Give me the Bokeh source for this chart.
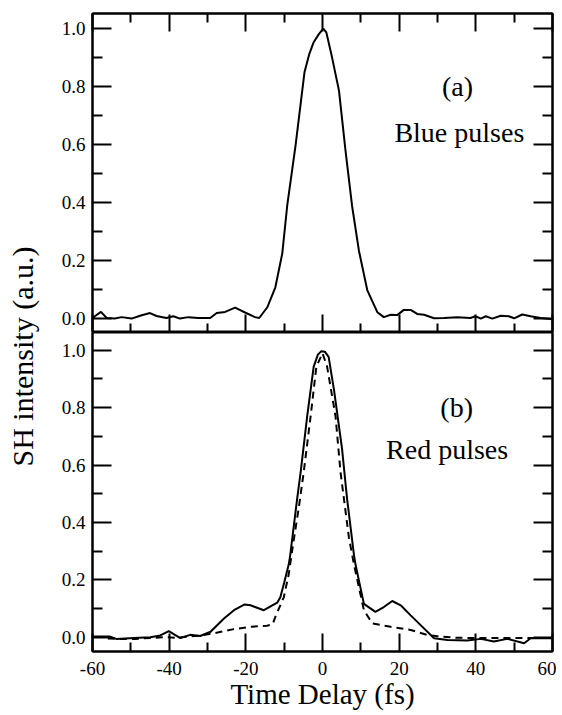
from bokeh.plotting import figure
from bokeh.models import Range1d, LinearAxis, FixedTicker, Label
from bokeh.layouts import row, column
from bokeh.embed import file_html
from bokeh.resources import INLINE

# ---------------- data ----------------
x_ticks = [-60, -40, -20, 0, 20, 40, 60]
x_tick_labels = ["-60", "-40", "-20", "0", "20", "40", "60"]
x_minor = [-50, -30, -10, 10, 30, 50]
y_ticks = [0.0, 0.2, 0.4, 0.6, 0.8, 1.0]
y_tick_labels = ["0.0", "0.2", "0.4", "0.6", "0.8", "1.0"]
y_minor = [0.1, 0.3, 0.5, 0.7, 0.9]

blue_t = [-60, -59.4, -57.8, -56.3, -54.2, -52.4, -49.8, -47.6, -45, -43.3, -40.7, -38.9,
          -37.2, -35, -32.4, -29.3, -27.6, -25.4, -22.8, -20.2, -17.6, -16.5, -14.4, -12.3,
          -10.5, -9.2, -7.0, -4.7, -3.5, -2.3, -1.0, 0.2, 1.0, 2.5, 4.3, 6.0, 7.7, 9.5, 11.7,
          14.3, 16, 17.8, 19.5, 21.2, 23, 24.7, 26.5, 29.1, 31.7, 35.2, 38.6, 39.9, 41.3,
          42.6, 44.3, 46.5, 48.6, 50, 52.1, 54.3, 56.9, 60]
blue_sh = [0.0, 0.008, 0.023, 0.002, 0.0, 0.005, 0.0, 0.01, 0.019, 0.009, 0.002, 0.008,
           0.0, 0.005, 0.002, 0.002, 0.019, 0.023, 0.038, 0.021, 0.005, 0.002, 0.039, 0.108,
           0.224, 0.39, 0.60, 0.849, 0.91, 0.953, 0.98, 1.0, 0.987, 0.90, 0.786, 0.579, 0.39,
           0.234, 0.097, 0.022, 0.005, 0.013, 0.012, 0.03, 0.03, 0.016, 0.013, 0.001, 0.002,
           0.005, 0.002, 0.008, 0.0, 0.008, 0.0, 0.01, 0.008, 0.001, 0.014, 0.008, 0.002, -0.002]

red_t = [-60, -55.4, -53.8, -49.3, -44.9, -42.3, -40.1, -37.1, -34.5, -31.9, -29.2, -25.7,
         -23.1, -20.3, -18.8, -15.3, -11.8, -11, -10, -8.8, -8.4, -6.6, -5.7, -4.0, -2.3,
         -1.2, -0.3, 0.6, 1.6, 3.0, 5.1, 6.4, 8.2, 8.6, 10.8, 13.8, 16, 18.2, 20.4, 23, 25.6,
         29.1, 32.6, 37.8, 41.3, 44.7, 48.2, 52.6, 54.3, 60]
red_sh = [0.002, 0.002, -0.006, -0.003, 0.0, 0.006, 0.021, -0.003, 0.008, 0.004, 0.019, 0.065,
          0.094, 0.114, 0.111, 0.094, 0.12, 0.139, 0.19, 0.254, 0.288, 0.484, 0.575, 0.77, 0.943,
          0.985, 0.997, 0.995, 0.977, 0.862, 0.656, 0.484, 0.288, 0.254, 0.116, 0.088, 0.105,
          0.126, 0.111, 0.076, 0.042, -0.004, -0.01, -0.012, -0.006, -0.015, -0.006, -0.021,
          -0.004, -0.004]

ref_t = [-56, -53, -49, -45, -41, -38, -35, -31.9, -27.4, -23.1, -18.8, -14.5, -13, -12.3,
         -10.1, -8.8, -7.6, -6.2, -4.9, -3.1, -1.6, 0, 1.2, 3.4, 4.7, 6.9, 8.2, 10.8, 13,
         17.8, 23, 27.3, 30, 35, 40, 45, 50, 55]
ref_sh = [-0.005, -0.006, -0.006, -0.003, 0.0, -0.002, 0.002, 0.005, 0.016, 0.028, 0.036, 0.04,
          0.045, 0.071, 0.139, 0.22, 0.33, 0.45, 0.575, 0.77, 0.943, 0.99, 0.943, 0.77, 0.575,
          0.346, 0.254, 0.094, 0.048, 0.036, 0.025, 0.008, 0.003, -0.002, -0.003, -0.003,
          -0.003, -0.003]

FONT = "Liberation Serif"
LW = 44          # width of the strip holding the shared y title
PW = 512         # width of each panel figure
H_TOP = 332
H_BOT = 380


def style_axis(ax, ticks, minor, labels, major_len, minor_len, show_labels):
    ax.ticker = FixedTicker(ticks=ticks, minor_ticks=minor)
    ax.major_tick_in = major_len
    ax.major_tick_out = 0
    ax.minor_tick_in = minor_len
    ax.minor_tick_out = 0
    ax.major_tick_line_width = 2
    ax.minor_tick_line_width = 2
    ax.axis_line_width = 2
    ax.major_tick_line_color = "black"
    ax.minor_tick_line_color = "black"
    ax.axis_line_color = "black"
    if show_labels:
        ax.major_label_overrides = {t: s for t, s in zip(ticks, labels)}
        ax.major_label_text_font = FONT
        ax.major_label_text_font_size = "19px"
        ax.major_label_text_color = "black"
    else:
        ax.major_label_overrides = {t: "" for t in ticks}
        ax.major_label_text_font_size = "0px"
        ax.major_label_standoff = 0


def base_fig(height, y_start, y_end, top, bottom):
    p = figure(width=PW, height=height, x_range=Range1d(-60, 60), y_range=Range1d(y_start, y_end),
               output_backend="svg", toolbar_location=None,
               x_axis_location=None, y_axis_location=None,
               min_border_left=48, min_border_right=4,
               min_border_top=top, min_border_bottom=bottom)
    p.grid.visible = False
    p.outline_line_color = "black"
    p.outline_line_width = 2
    return p


# ---------------- top panel (a) ----------------
pa = base_fig(H_TOP, -0.048, 1.052, 13, 0)
ax = LinearAxis(); style_axis(ax, x_ticks, x_minor, x_tick_labels, 18, 9, False); pa.add_layout(ax, "below")
ax = LinearAxis(); style_axis(ax, x_ticks, x_minor, x_tick_labels, 18, 9, False); pa.add_layout(ax, "above")
ax = LinearAxis(); style_axis(ax, y_ticks, y_minor, y_tick_labels, 19, 10, True)
ax.major_label_standoff = 7
pa.add_layout(ax, "left")
ax = LinearAxis(); style_axis(ax, y_ticks, y_minor, y_tick_labels, 19, 10, False); pa.add_layout(ax, "right")

pa.line(blue_t, blue_sh, line_color="black", line_width=2)
pa.add_layout(Label(x=35.2, y=0.80, text="(a)", text_font=FONT, text_font_size="28px",
                    text_align="center", text_baseline="middle", text_color="black"))
pa.add_layout(Label(x=35.7, y=0.64, text="Blue pulses", text_font=FONT, text_font_size="28px",
                    text_align="center", text_baseline="middle", text_color="black"))

# ---------------- bottom panel (b) ----------------
pb = base_fig(H_BOT, -0.05, 1.062, 0, 56)
ax = LinearAxis(); style_axis(ax, x_ticks, x_minor, x_tick_labels, 18, 9, True)
ax.major_label_standoff = 10
ax.axis_label = "Time Delay (fs)"
ax.axis_label_text_font = FONT
ax.axis_label_text_font_size = "29px"
ax.axis_label_text_font_style = "normal"
ax.axis_label_standoff = 0
ax.axis_label_text_color = "black"
pb.add_layout(ax, "below")
ax = LinearAxis(); style_axis(ax, y_ticks, y_minor, y_tick_labels, 19, 10, True)
ax.major_label_standoff = 7
pb.add_layout(ax, "left")
ax = LinearAxis(); style_axis(ax, y_ticks, y_minor, y_tick_labels, 19, 10, False); pb.add_layout(ax, "right")

pb.line(red_t, red_sh, line_color="black", line_width=2)
pb.line(ref_t, ref_sh, line_color="black", line_width=2, line_dash="7 5")
pb.add_layout(Label(x=35.0, y=0.80, text="(b)", text_font=FONT, text_font_size="28px",
                    text_align="center", text_baseline="middle", text_color="black"))
pb.add_layout(Label(x=32.5, y=0.655, text="Red pulses", text_font=FONT, text_font_size="28px",
                    text_align="center", text_baseline="middle", text_color="black"))

# ---------------- strip with the shared y-axis title ----------------
pl = figure(width=LW, height=H_TOP + H_BOT, x_range=Range1d(0, 1), y_range=Range1d(0, 1),
            output_backend="svg", toolbar_location=None,
            x_axis_location=None, y_axis_location=None, min_border=0)
pl.grid.visible = False
pl.outline_line_color = None
pl.add_layout(Label(x=0.5, y=0.50, text="SH intensity (a.u.)", angle=90, angle_units="deg",
                    text_font=FONT, text_font_size="30px", text_align="center",
                    text_baseline="middle", text_color="black"))

layout = row(pl, column(pa, pb, spacing=0), spacing=0)

with open("out.html", "w") as f:
    f.write(file_html(layout, INLINE))
